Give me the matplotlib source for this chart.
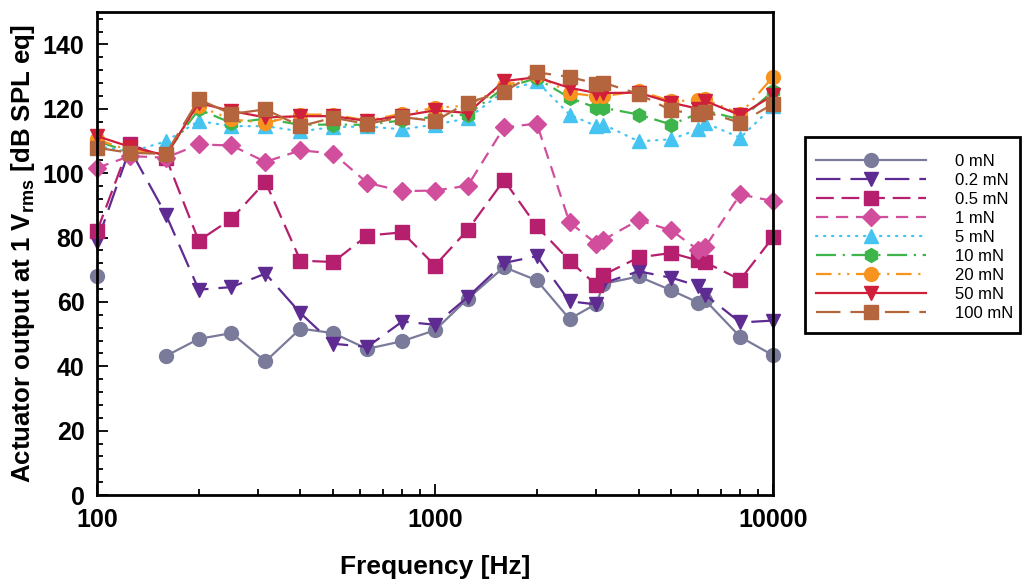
import numpy as np
import matplotlib
matplotlib.use("Agg")
import matplotlib.pyplot as plt
from matplotlib.patches import Rectangle
from matplotlib.ticker import MultipleLocator, FixedLocator, NullFormatter

plt.rcParams["font.family"] = ["Liberation Sans", "DejaVu Sans"]
plt.rcParams["mathtext.fontset"] = "custom"
plt.rcParams["mathtext.rm"] = "Liberation Sans"
plt.rcParams["mathtext.bf"] = "Liberation Sans:bold"

nan = np.nan
freqs = [100, 125, 160, 200, 250, 315, 400, 500, 630, 800, 1000, 1250, 1600,
         2000, 2500, 3000, 3150, 4000, 5000, 6000, 6300, 8000, 10000]

f_0 = [68.1, nan, 43.2, 48.5, 50.3, 41.5, 51.7, 50.3, 45.4, 47.8, 51.2, 61.0, 70.8,
       66.7, 54.7, 59.4, 65.6, 67.9, 63.6, 59.8, 60.5, 49.1, 43.4]
f_02 = [78.5, 107.5, 87.1, 63.8, 64.6, 68.8, 56.5, 47.0, 46.0, 53.9, 52.9, 61.5, 72.1,
        74.2, 60.2, 59.2, 65.8, 69.5, 67.5, 65.0, 62.2, 53.6, 54.2]
f_05 = [81.9, 109.0, 104.8, 79.0, 85.8, 97.3, 72.8, 72.4, 80.6, 81.6, 71.3, 82.4, 97.8,
        83.5, 72.8, 65.2, 68.4, 73.8, 75.2, 72.9, 72.3, 66.9, 80.1]
f_1 = [101.6, 105.3, 104.8, 108.9, 108.6, 103.5, 107.1, 106.1, 97.0, 94.4, 94.6, 96.1, 114.2,
       115.4, 84.7, 78.1, 79.3, 85.4, 82.2, 76.2, 77.1, 93.4, 91.3]
f_5 = [108.5, 106.5, 109.9, 116.2, 114.6, 114.6, 113.0, 114.3, 114.5, 113.6, 115.1, 117.0, 125.5,
       128.5, 118.2, 114.6, 115.1, 109.9, 110.5, 113.6, 115.6, 111.0, 120.8]
f_10 = [110.0, 106.5, 106.0, 119.8, 115.6, 116.9, 115.0, 115.1, 115.0, 116.4, 117.5, 118.2, 126.5,
        129.5, 123.4, 120.3, 120.3, 118.2, 115.1, 118.5, 119.5, 116.6, 125.5]
f_20 = [110.5, 107.0, 106.0, 120.8, 116.7, 115.6, 118.2, 118.2, 116.3, 118.5, 120.3, 121.0, 127.0,
        130.5, 124.9, 123.9, 123.9, 125.5, 122.4, 122.6, 122.9, 118.4, 129.9]
f_50 = [111.5, 108.2, 105.5, 121.8, 119.3, 117.3, 117.7, 117.7, 116.2, 117.8, 119.5, 118.7, 128.6,
        129.8, 126.5, 124.9, 124.9, 125.0, 121.9, 120.0, 122.4, 118.0, 124.2]
f_100 = [107.9, 106.3, 106.0, 122.9, 118.4, 119.8, 114.6, 117.2, 115.3, 117.4, 116.2, 121.9, 125.3,
         131.3, 129.9, 127.8, 128.1, 124.6, 119.5, 118.4, 119.1, 115.6, 121.5]

labels = ["0 mN", "0.2 mN", "0.5 mN", "1 mN", "5 mN", "10 mN", "20 mN", "50 mN", "100 mN"]
series = [f_0, f_02, f_05, f_1, f_5, f_10, f_20, f_50, f_100]
colors = ["#7a7b9b", "#5e2b92", "#b51f6d", "#d14e9d", "#45c4f1",
          "#3db54a", "#f7941e", "#cf1f3a", "#b5653d"]
markers = ["o", "v", "s", "D", "^", "h", "o", "v", "s"]
msizes = [10, 10, 9.5, 9, 10, 10, 10, 10, 9.5]
dashes = [None, (11, 4.5), (8, 3.5), (5.5, 3.5), (0.6, 3),
          (9, 3, 1, 3), (7, 3, 1, 3, 1, 3), None, (11, 4.5)]

fig = plt.figure(figsize=(10.25, 5.81), dpi=100)
ax = fig.add_axes([0.0946, 0.148, 0.6596, 0.831])

for y, lab, c, m, ms, d in zip(series, labels, colors, markers, msizes, dashes):
    line, = ax.plot(freqs, y, color=c, marker=m, markersize=ms, markeredgecolor=c,
                    linewidth=1.6, label=lab, clip_on=False)
    if d is not None:
        line.set_dashes(d)
    if lab == "5 mN":
        line.set_dash_capstyle("round")

ax.set_xscale("log")
ax.set_xlim(100, 10000)
ax.set_ylim(0, 150)
ax.yaxis.set_major_locator(FixedLocator(np.arange(0, 141, 20)))
ax.yaxis.set_minor_locator(MultipleLocator(4))
ax.xaxis.set_minor_formatter(NullFormatter())
ax.set_xticks([100, 1000, 10000])
ax.set_xticklabels(["100", "1000", "10000"])

for s in ax.spines.values():
    s.set_linewidth(2)
ax.tick_params(which="both", direction="in", top=False, right=False, width=1.3)
ax.tick_params(which="major", length=8, labelsize=18, pad=9)
ax.tick_params(which="minor", length=4)
for t in ax.get_xticklabels() + ax.get_yticklabels():
    t.set_fontweight("bold")

ax.set_xlabel("Frequency [Hz]", fontsize=19, fontweight="bold", labelpad=17)
ax.set_ylabel(r"Actuator output at 1 V$_{\mathregular{rms}}$ [dB SPL eq]",
              fontsize=18.6, fontweight="bold", labelpad=4)

# legend box drawn separately so the padding can differ per side
fig.patches.append(Rectangle((0.7854, 0.4269), 0.2098, 0.3373, transform=fig.transFigure,
                             facecolor="white", edgecolor="black", linewidth=2, zorder=0))
leg = fig.legend(loc="center left", bbox_to_anchor=(0.7961, 0.591), fontsize=12,
                 handlelength=6.6, handletextpad=1.75, labelspacing=0.24,
                 borderpad=0, borderaxespad=0, frameon=False)

fig.savefig("out.png", dpi=100)
